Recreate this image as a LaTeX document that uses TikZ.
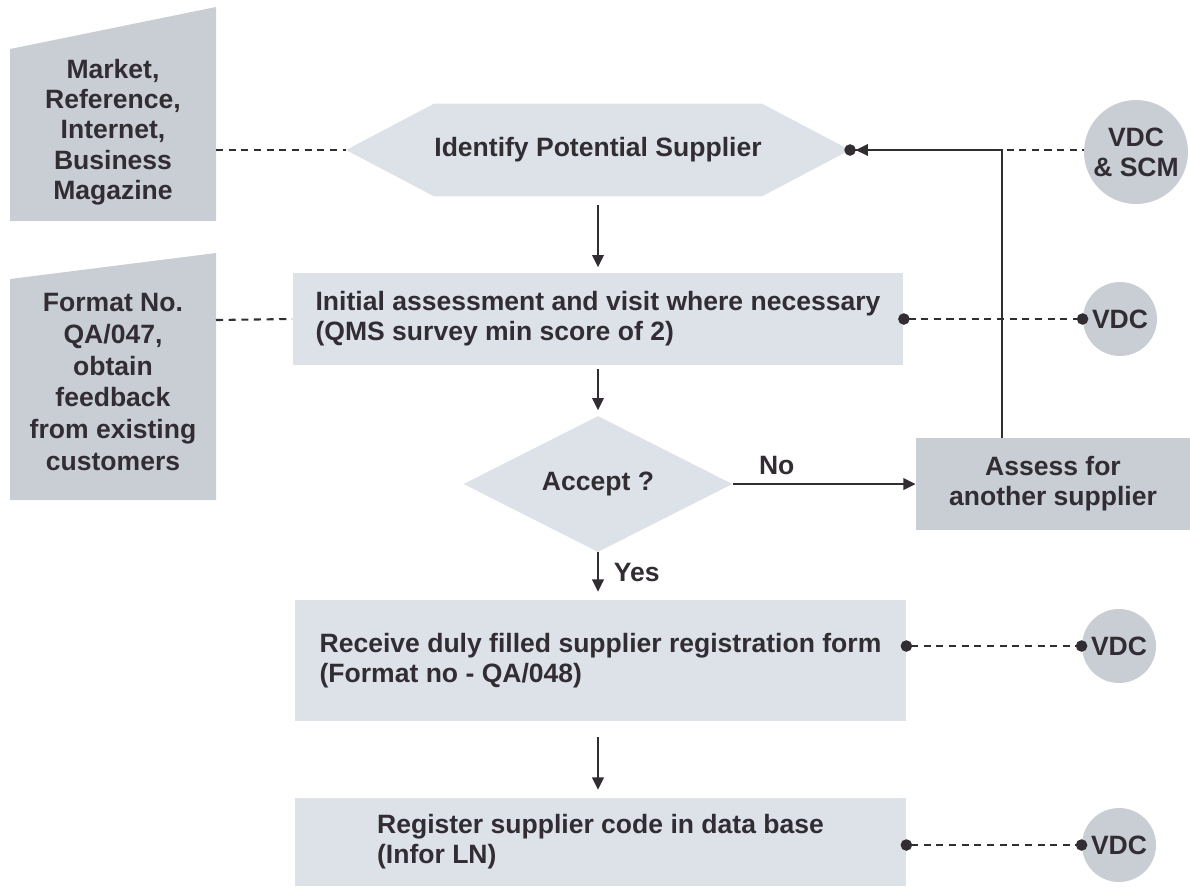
\documentclass[tikz,border=0pt]{standalone}
\usepackage{fontspec}
\setmainfont{Liberation Sans}
\usetikzlibrary{arrows.meta,positioning,calc,shapes.geometric,backgrounds}
\definecolor{InkColor}{RGB}{50,45,50}
\definecolor{StepFill}{RGB}{220,226,232}
\definecolor{SideFill}{RGB}{200,206,212}
\tikzset{
  stepbox/.style={rectangle, fill=StepFill, align=left, inner sep=0pt, text=InkColor},
  sidetext/.style={align=center, text=InkColor},
  owner/.style={circle, fill=SideFill, inner sep=0pt, align=center, text=InkColor},
  flow/.style={-{Triangle[length=7pt,width=6.5pt]}, line width=1.35pt, draw=InkColor, shorten >=3pt},
  dashlink/.style={line width=1.2pt, draw=InkColor, dash pattern=on 4pt off 3.2pt},
  dotlink/.style={dashlink, {Circle[length=6.5pt]}-{Circle[length=6.5pt]}, shorten <=-3.2pt, shorten >=-3.2pt},
}

\begin{document}
\begin{tikzpicture}[x=0.02cm, y=-0.02cm, every node/.style={font=\fontsize{15.1}{17.2}\selectfont\bfseries}]
  \useasboundingbox (0,0) rectangle (1190,887);

  % main steps
  \node[minimum width=6.08cm, minimum height=1.84cm, inner sep=0pt, text=InkColor] (idf) at (598,150) {Identify Potential Supplier};
  \node[stepbox, minimum width=12.22cm, minimum height=1.84cm] (init) at (598,319)
    {Initial assessment and visit where necessary\\(QMS survey min score of 2)};
  \node[diamond, fill=StepFill, text=InkColor, inner sep=0pt, minimum width=5.38cm, minimum height=2.42cm] (acc) at (598,484) {Accept ?};
  \node[stepbox, fill=SideFill, align=center, minimum width=5.48cm, minimum height=1.84cm] (asf) at (1053,484)
    {Assess for\\another supplier};
  \node[stepbox, minimum width=12.22cm, minimum height=2.42cm] (rcv) at (600.5,660.5)
    {Receive duly filled supplier registration form\\(Format no - QA/048)};
  \node[stepbox, minimum width=12.22cm, minimum height=1.76cm] (reg) at (600.5,842)
    {Register supplier code in data base\\(Infor LN)};

  % inputs on the left
  \node[sidetext] (mkt) at (113,132) {Market,\\Reference,\\Internet,\\Business\\Magazine};
  \node[sidetext, font=\fontsize{15.1}{18.2}\selectfont\bfseries] (fmt) at (113,382)
    {Format No.\\QA/047,\\obtain\\feedback\\from existing\\customers};
  \coordinate (mktR) at (216,150);
  \coordinate (fmtR) at (216,320);

  % owners on the right
  \node[owner, minimum size=2.08cm] (vdcs) at (1136,152) {VDC\\\& SCM};
  \node[owner, minimum size=1.48cm] (vdca) at (1120,319) {VDC};
  \node[owner, minimum size=1.48cm] (vdcb) at (1119,646) {VDC};
  \node[owner, minimum size=1.48cm] (vdcc) at (1119,845) {VDC};

  \coordinate (idfL) at ($(idf.west)+(-88,0)$);
  \coordinate (idfR) at ($(idf.east)+(88,0)$);
  \coordinate (bend) at (1002,150);

  \begin{scope}[on background layer]
    \fill[SideFill] (10,49) -- (216,7) -- (216,221) -- (10,221) -- cycle;
    \fill[SideFill] (10,279) -- (216,253) -- (216,500) -- (10,500) -- cycle;
    \fill[StepFill] (idfL) -- (idf.north west) -- (idf.north east) -- (idfR)
      -- (idf.south east) -- (idf.south west) -- cycle;
  \end{scope}

  % dashed links
  \draw[dashlink] (mktR) -- (idfL);
  \draw[dashlink] (fmtR) -- (init.west);
  \draw[dashlink, {Circle[length=6.5pt]}-, shorten <=-3.2pt] (idfR) -- (idfR -| vdcs.west);
  \draw[dotlink] (init.east) -- (vdca.west);
  \draw[dotlink] (rcv.east |- vdcb.west) -- (vdcb.west);
  \draw[dotlink] (reg.east |- vdcc.west) -- (vdcc.west);

  % flow
  \draw[flow, shorten <=5pt] (idf.south) -- (init.north);
  \draw[flow, shorten <=2pt] (init.south) -- (acc.north);
  \draw[flow, shorten >=0pt] (acc.east) -- node[above=1pt, pos=0.24, text=InkColor] {No} (asf.west);
  \draw[flow, shorten >=4.5pt] (acc.south) -- node[right=5pt, pos=0.42, text=InkColor] {Yes} (acc.south |- rcv.north);
  \draw[flow, shorten <=9pt, shorten >=4.5pt] (acc.south |- rcv.south) -- (acc.south |- reg.north);
  \draw[flow, shorten >=3.2pt] (asf.north -| bend) -- (bend) -- (idfR);
\end{tikzpicture}
\end{document}
